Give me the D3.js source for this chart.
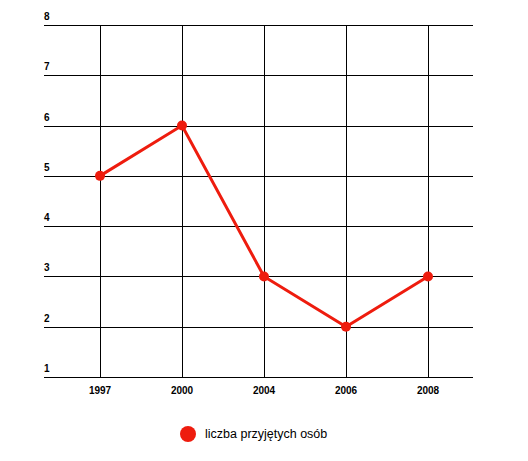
<!DOCTYPE html>
<html>
<head>
<meta charset="utf-8">
<script src="https://cdn.jsdelivr.net/npm/d3@7"></script>
<style>
  body { margin: 0; background: #fff; }
  text { font-family: "Liberation Sans", sans-serif; }
</style>
</head>
<body>
<svg id="chart" width="528" height="461"></svg>
<script>
var years = ["1997", "2000", "2004", "2006", "2008"];
var values = [5, 6, 3, 2, 3];
var yTicks = [1, 2, 3, 4, 5, 6, 7, 8];
var seriesName = "liczba przyjętych osób";

var svg = d3.select("#chart");
var red = "#ee1c0e";

// plot area
var plotLeft = 44, plotRight = 473, plotTop = 25, plotBottom = 377;

var x = d3.scalePoint().domain(years).range([100, 428]);
var y = d3.scaleLinear().domain([1, 8]).range([plotBottom, plotTop]);

// horizontal grid + labels
svg.append("g").selectAll("line")
    .data(yTicks)
  .enter().append("line")
    .attr("x1", plotLeft).attr("x2", plotRight)
    .attr("y1", function(d) { return Math.round(y(d)) + 0.5; })
    .attr("y2", function(d) { return Math.round(y(d)) + 0.5; })
    .attr("stroke", "#000").attr("stroke-width", 1);

svg.append("g").selectAll("text")
    .data(yTicks)
  .enter().append("text")
    .attr("x", plotLeft)
    .attr("y", function(d) { return y(d) - 5; })
    .attr("font-size", 10).attr("font-weight", "bold")
    .text(function(d) { return d; });

// vertical grid lines
svg.append("g").selectAll("line")
    .data(years)
  .enter().append("line")
    .attr("x1", function(d) { return Math.round(x(d)) + 0.5; })
    .attr("x2", function(d) { return Math.round(x(d)) + 0.5; })
    .attr("y1", plotTop).attr("y2", plotBottom)
    .attr("stroke", "#000").attr("stroke-width", 1);

svg.append("g").selectAll("text")
    .data(years)
  .enter().append("text")
    .attr("x", function(d) { return x(d); })
    .attr("y", plotBottom + 17)
    .attr("text-anchor", "middle")
    .attr("font-size", 10).attr("font-weight", "bold")
    .text(function(d) { return d; });

// the series
var pts = years.map(function(d, i) { return [x(d), y(values[i])]; });

svg.append("path")
    .attr("d", d3.line()(pts))
    .attr("fill", "none")
    .attr("stroke", red)
    .attr("stroke-width", 3);

svg.append("g").selectAll("circle")
    .data(pts)
  .enter().append("circle")
    .attr("cx", function(d) { return d[0]; })
    .attr("cy", function(d) { return d[1]; })
    .attr("r", 5)
    .attr("fill", red);

// legend
var legend = svg.append("g").attr("transform", "translate(188,434)");
legend.append("circle").attr("r", 8).attr("fill", red);
legend.append("text")
    .attr("x", 17).attr("y", 4)
    .attr("font-size", 12.5)
    .text(seriesName);
</script>
</body>
</html>
